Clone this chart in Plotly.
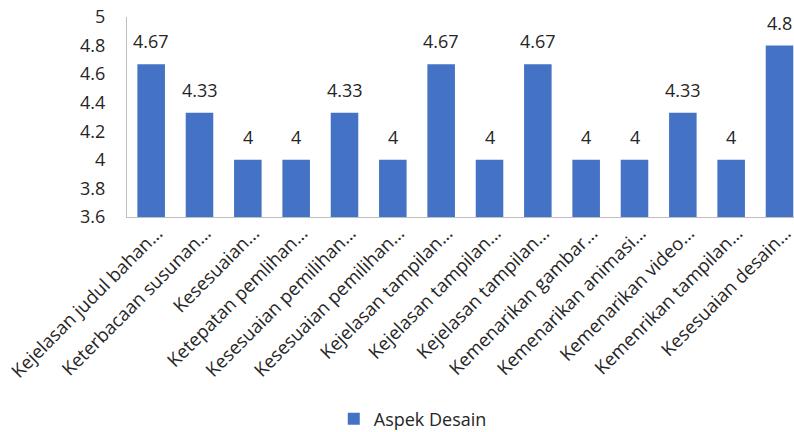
import plotly.graph_objects as go

# Category labels (truncated as shown on the axis)
categories = [
    "Kejelasan judul bahan...",
    "Keterbacaan susunan...",
    "Kesesuaian...",
    "Ketepatan pemlihan...",
    "Kesesuaian pemilihan...",
    "Kesesuaian pemilihan...",
    "Kejelasan tampilan...",
    "Kejelasan tampilan...",
    "Kejelasan tampilan...",
    "Kemenarikan gambar...",
    "Kemenarikan animasi...",
    "Kemenarikan video...",
    "Kemenrikan tampilan...",
    "Kesesuaian desain...",
]
scores = [4.67, 4.33, 4, 4, 4.33, 4, 4.67, 4, 4.67, 4, 4, 4.33, 4, 4.8]
series_name = "Aspek Desain"
y_ticks = [3.6, 3.8, 4, 4.2, 4.4, 4.6, 4.8, 5]

BAR_COLOR = "#4472C4"
TEXT_COLOR = "#262626"
AXIS_COLOR = "#BFBFBF"
FONT = "Open Sans"

idx = list(range(len(categories)))

fig = go.Figure()
fig.add_trace(go.Bar(
    x=idx,
    y=scores,
    name=series_name,
    marker=dict(color=BAR_COLOR, line=dict(width=0)),
    showlegend=True,
))

# Value labels above each bar
for i, v in zip(idx, scores):
    fig.add_annotation(
        x=i, y=v, text=f"{v:g}", showarrow=False,
        xref="x", yref="y", yanchor="bottom", yshift=9,
        font=dict(family=FONT, size=18, color=TEXT_COLOR),
    )

fig.update_layout(
    width=794, height=432,
    margin=dict(l=127, r=0, t=17, b=215, autoexpand=False),
    paper_bgcolor="white", plot_bgcolor="white",
    bargap=0.43,
    font=dict(family=FONT, size=18, color=TEXT_COLOR),
    legend=dict(
        orientation="h", x=0.31, xanchor="left", y=-1.01, yanchor="middle",
        font=dict(family=FONT, size=18, color=TEXT_COLOR),
    ),
)
fig.update_xaxes(
    range=[-0.5, 13.3],
    tickmode="array", tickvals=idx, ticktext=categories,
    tickangle=-45, showgrid=False, zeroline=False,
    showline=True, linecolor=AXIS_COLOR, linewidth=1,
    ticks="", tickfont=dict(family=FONT, size=18.5, color=TEXT_COLOR),
    ticklabeloverflow="allow", ticklabelshift=6, ticklabelstandoff=-3,
    automargin=False,
)
fig.update_yaxes(
    range=[3.6, 5],
    tickmode="array", tickvals=y_ticks,
    ticktext=[f"{t:g}" for t in y_ticks],
    showgrid=False, zeroline=False,
    showline=True, linecolor=AXIS_COLOR, linewidth=1,
    ticks="outside", ticklen=17, tickcolor="rgba(0,0,0,0)",
    tickfont=dict(family=FONT, size=18, color=TEXT_COLOR),
    automargin=False,
)

fig.write_html("out.html")
